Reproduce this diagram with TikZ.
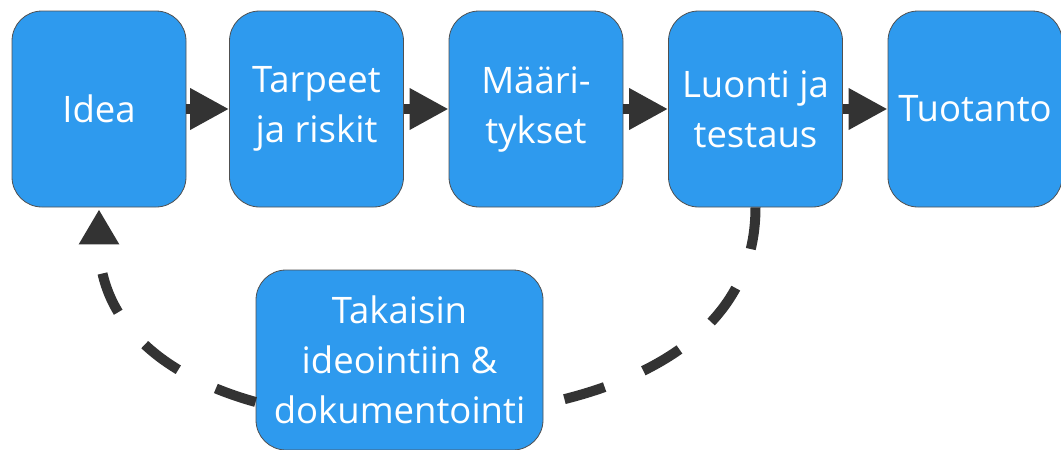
\documentclass[tikz,border=0pt]{standalone}
\usepackage{fontspec}
\setmainfont{Open Sans}
\usetikzlibrary{arrows.meta}
\definecolor{boxblue}{RGB}{46,154,238}
\definecolor{boxline}{RGB}{80,80,80}
\definecolor{arrowgray}{RGB}{51,51,51}
\begin{document}
\begin{tikzpicture}[x=1pt,y=-1pt,
  stepbox/.style={rectangle, rounded corners=30pt, draw=boxline, line width=0.8pt,
    fill=boxblue, text=white, align=center, inner sep=0pt,
    minimum width=174pt, minimum height=196pt,
    font=\fontsize{36.5}{50}\selectfont},
  flow/.style={draw=arrowgray, line width=10pt, -{Triangle[length=39pt,width=39pt]}},
  back/.style={draw=arrowgray, line width=10pt, dash pattern=on 42pt off 42pt},
  backarrow/.style={back, -{Triangle[length=35pt,width=38pt]}, shorten >=2pt}
]
\useasboundingbox (0,0) rectangle (1061,450);
\node[stepbox] (idea) at (99,109) {Idea};
\node[stepbox] (tarpeet) at (316.5,109) {Tarpeet\\ja riskit};
\node[stepbox] (maari) at (536,109) {Määri-\\tykset};
\node[stepbox] (luonti) at (755.5,109) {Luonti ja\\testaus};
\node[stepbox] (tuotanto) at (975,109) {Tuotanto};
\node[stepbox, minimum width=287pt, minimum height=180pt] (takaisin) at (399.5,360) {Takaisin\\ideointiin \&\\dokumentointi};

\draw[flow] (idea.east) -- (tarpeet.west);
\draw[flow] (tarpeet.east) -- (maari.west);
\draw[flow] (maari.east) -- (luonti.west);
\draw[flow] (luonti.east) -- (tuotanto.west);

\draw[back] (luonti.south) .. controls ++(0,120) and ++(105,-22) .. (takaisin.east|-0,404);
\coordinate (bl) at (takaisin.west|-0,402);
\draw[backarrow] (bl) .. controls ++(-100,-28) and ++(0,110) .. (idea.south);
\end{tikzpicture}
\end{document}
